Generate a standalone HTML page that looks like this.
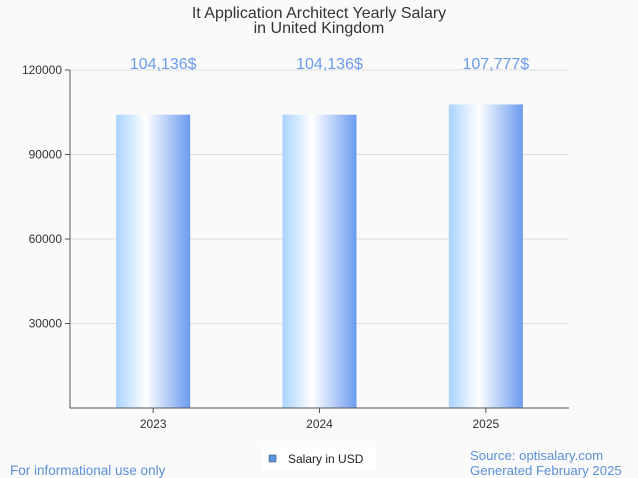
<!DOCTYPE html>
<html><head><meta charset="utf-8"><style>
body{margin:0;background:#fafafa;font-family:"Liberation Sans",sans-serif;}
svg{display:block}
</style></head><body>
<svg width="638" height="478">
<defs>
<linearGradient id="bg" x1="0" x2="1" y1="0" y2="0">
<stop offset="0" stop-color="#a9d3ff"/>
<stop offset="0.4" stop-color="#ffffff"/>
<stop offset="1" stop-color="#6b9bef"/>
</linearGradient>
</defs>
<rect width="638" height="478" fill="#fafafa"/>
<text x="319" y="18" text-anchor="middle" font-size="16" fill="#333">It Application Architect Yearly Salary</text>
<text x="319" y="33" text-anchor="middle" font-size="16" fill="#333">in United Kingdom</text>
<g id="grid"></g>
<g id="bars"></g>
<line x1="70" y1="70" x2="70" y2="408" stroke="#555"/>
<line x1="70" y1="408" x2="569" y2="408" stroke="#555"/>
<rect x="262" y="447" width="114" height="23" fill="#fff"/>
<rect x="269" y="455" width="7" height="7" fill="#5a93e0" stroke="#345" stroke-width="0.5"/>
<text x="288" y="463" font-size="12" fill="#222">Salary in USD</text>
<text x="10" y="475" font-size="13.5" fill="#5b8fd9">For informational use only</text>
<text x="470" y="460" font-size="13.2" fill="#5b8fd9">Source: optisalary.com</text>
<text x="470" y="475" font-size="13.2" fill="#5b8fd9">Generated February 2025</text>
</svg>
<script>
const categories=["2023","2024","2025"];
const values=[104136,104136,107777];
const valueLabels=["104,136$","104,136$","107,777$"];
const yTicks=[30000,60000,90000,120000];
const ns="http://www.w3.org/2000/svg";
const y0=408,yTop=70,yMax=120000,xL=70,xR=569;
const y=v=>y0-(v/yMax)*(y0-yTop);
const band=(xR-xL)/categories.length;
const g=document.getElementById('grid'),b=document.getElementById('bars');
function mk(t,a,p){const e=document.createElementNS(ns,t);for(const k in a)e.setAttribute(k,a[k]);p.appendChild(e);return e;}
yTicks.forEach(t=>{
const l=mk('line',{x1:xL,x2:xR,y1:y(t),y2:y(t),stroke:'#ddd'},g);


const tx=mk('text',{x:62,y:y(t)+4,'text-anchor':'end','font-size':12,fill:'#333'},g);
tx.textContent=t;


const tk=mk('line',{x1:65,x2:70,y1:y(t),y2:y(t),stroke:'#555'},g);


});
categories.forEach((c,i)=>{
const cx=xL+band*(i+0.5),w=74;
const r=mk('rect',{x:cx-w/2,y:y(values[i]),width:w,height:y0-y(values[i]),fill:'url(#bg)'},b);


const vl=mk('text',{x:cx+10,y:69,'text-anchor':'middle','font-size':16,fill:'#6b9bef'},b);
vl.textContent=valueLabels[i];


const xl=mk('text',{x:cx,y:428,'text-anchor':'middle','font-size':12,fill:'#333'},b);
xl.textContent=c;


const tk=mk('line',{x1:cx,x2:cx,y1:408,y2:413,stroke:'#555'},b);


});
</script>
</body></html>
